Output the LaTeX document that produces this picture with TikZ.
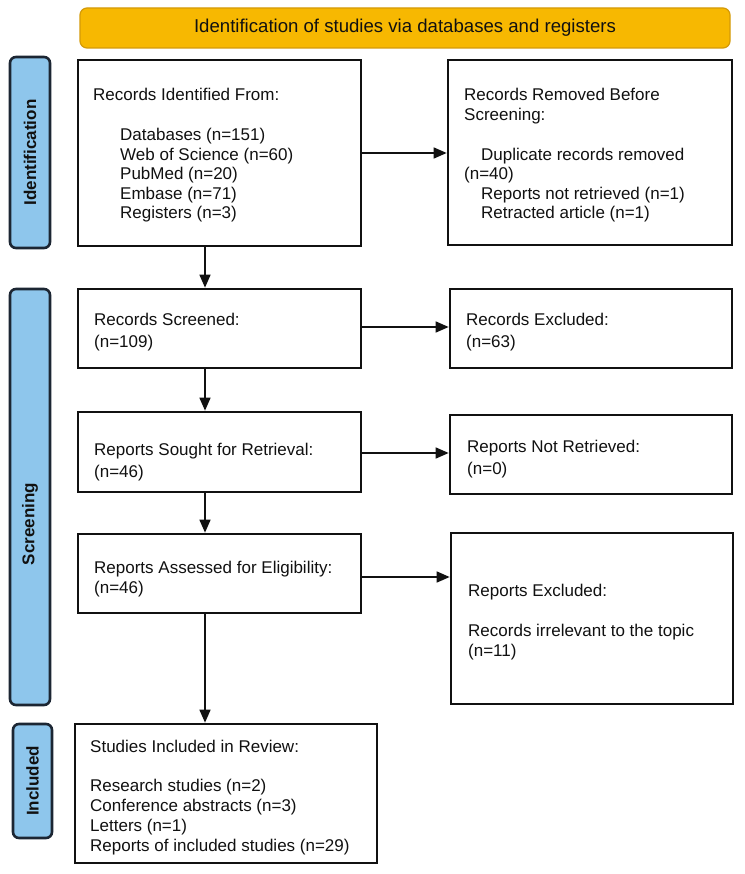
\documentclass[tikz,border=0pt]{standalone}
\usepackage{fontspec}
\setmainfont{Liberation Sans}
\usetikzlibrary{arrows.meta,fit}
\definecolor{bannerfill}{HTML}{F7B801}
\definecolor{bannerline}{HTML}{D49A08}
\definecolor{barfill}{HTML}{8EC6EC}
\definecolor{barline}{HTML}{1C2633}
\definecolor{inkc}{HTML}{111111}
\tikzset{
  box/.style={draw=inkc, line width=2.7pt, inner sep=0pt, fill=white},
  bar/.style={draw=barline, fill=barfill, line width=2.6pt, rounded corners=6pt, inner sep=0pt},
  barlabel/.style={rotate=90, font=\fontsize{17}{20}\selectfont\bfseries, text=inkc, inner sep=0pt},
  banner/.style={draw=bannerline, fill=bannerfill, line width=1.2pt, rounded corners=7pt, inner sep=0pt},
  txtA/.style={anchor=base west, inner sep=0pt, text=inkc, font=\fontsize{17}{19.5}\selectfont},
  txtB/.style={anchor=base west, inner sep=0pt, text=inkc, font=\fontsize{17}{22}\selectfont},
  txtC/.style={anchor=base west, inner sep=0pt, text=inkc, font=\fontsize{17}{20}\selectfont},
  arr/.style={draw=inkc, line width=1.6pt, -{Triangle[length=13pt,width=11pt]}}
}
\begin{document}
\begin{tikzpicture}[x=1pt,y=-1pt]
\useasboundingbox (0,0) rectangle (744,874);
\fill[white] (0,0) rectangle (744,874);

% banner
\node[banner, fit={(80,8) (730,48)}] (ban) {};
\node[inner sep=0pt, text=inkc, font=\fontsize{18.6}{20}\selectfont] (bantxt) at (405,28) {Identification of studies via databases and registers};

% side bars
\node[bar, fit={(10,57) (50,248)}] (barI) {};
\node[barlabel] (labI) at (barI.center) {Identification};
\node[bar, fit={(10,289) (50,705)}] (barS) {};
\node[barlabel] (labS) at (30,524) {Screening};
\node[bar, fit={(13,724) (52,838)}] (barN) {};
\node[barlabel] (labN) at (barN.center) {Included};

% boxes
\node[box, fit={(78,60) (361,246)}] (b1) {};
\node[box, fit={(448,60) (732,245)}] (b2) {};
\node[box, fit={(78,289) (361,368)}] (sc) {};
\node[box, fit={(450,289) (732,368)}] (ex) {};
\node[box, fit={(78,412) (361,492)}] (so) {};
\node[box, fit={(450,415) (732,494)}] (nr) {};
\node[box, fit={(78,534) (361,613)}] (as) {};
\node[box, fit={(451,533) (733,704)}] (rx) {};
\node[box, fit={(75,724) (377,863)}] (inc) {};

% texts
\node[txtA] (t1) at (93,101) {\begin{tabular}[t]{@{}l@{}}Records Identified From:\\[20.5pt]
\hspace*{27pt}Databases (n=151)\\
\hspace*{27pt}Web of Science (n=60)\\
\hspace*{27pt}PubMed (n=20)\\
\hspace*{27pt}Embase (n=71)\\
\hspace*{27pt}Registers (n=3)\end{tabular}};

\node[txtA] (t2) at (464,101) {\begin{tabular}[t]{@{}l@{}}Records Removed Before\\
Screening:\\[20.5pt]
\hspace*{17pt}Duplicate records removed\\
(n=40)\\
\hspace*{17pt}Reports not retrieved (n=1)\\
\hspace*{17pt}Retracted article (n=1)\end{tabular}};

\node[txtB] (t3) at (94,325) {\begin{tabular}[t]{@{}l@{}}Records Screened:\\(n=109)\end{tabular}};
\node[txtB] (t4) at (466,325) {\begin{tabular}[t]{@{}l@{}}Records Excluded:\\(n=63)\end{tabular}};
\node[txtB] (t5) at (94,455) {\begin{tabular}[t]{@{}l@{}}Reports Sought for Retrieval:\\(n=46)\end{tabular}};
\node[txtB] (t6) at (467,452) {\begin{tabular}[t]{@{}l@{}}Reports Not Retrieved:\\(n=0)\end{tabular}};
\node[txtC] (t7) at (94,573) {\begin{tabular}[t]{@{}l@{}}Reports Assessed for Eligibility:\\(n=46)\end{tabular}};
\node[txtC] (t8) at (468,596) {\begin{tabular}[t]{@{}l@{}}Reports Excluded:\\[20pt]
Records irrelevant to the topic\\(n=11)\end{tabular}};
\node[txtC] (t9) at (90,752) {\begin{tabular}[t]{@{}l@{}}Studies Included in Review:\\[19pt]
Research studies (n=2)\\
Conference abstracts (n=3)\\
Letters (n=1)\\
Reports of included studies (n=29)\end{tabular}};

% arrows
\coordinate (colx) at (205,0);
\draw[arr] (b1.east) -- (b2.west |- b1.east);
\draw[arr] (b1.south -| colx) -- (sc.north -| colx);
\draw[arr] (sc.east |- 0,327) -- (ex.west |- 0,327);
\draw[arr] (sc.south -| colx) -- (so.north -| colx);
\draw[arr] (so.east |- 0,453) -- (nr.west |- 0,453);
\draw[arr] (so.south -| colx) -- (as.north -| colx);
\draw[arr] (as.east |- 0,577) -- (rx.west |- 0,577);
\draw[arr] (as.south -| colx) -- (inc.north -| colx);
\end{tikzpicture}
\end{document}
